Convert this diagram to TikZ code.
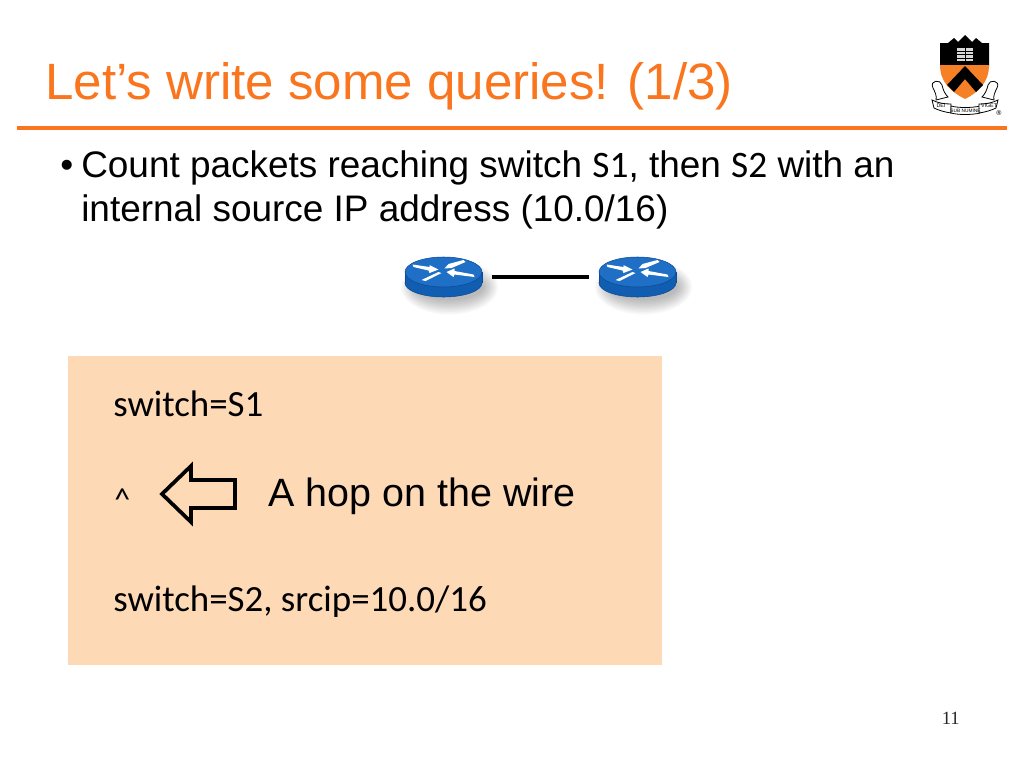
\documentclass[tikz,border=0pt]{standalone}
\usepackage{fontspec}
\setmainfont{Liberation Sans}
\newfontfamily\calfont{Carlito}
\newfontfamily\djfont{DejaVu Sans}
\newfontfamily\serfont{Liberation Serif}
\definecolor{ptitle}{HTML}{F9761E}
\definecolor{pbox}{HTML}{FDD9B5}
\definecolor{rtop}{HTML}{1F6FC6}
\definecolor{rside}{HTML}{105DB2}
\definecolor{rrim}{HTML}{0B4A94}
\definecolor{shield}{HTML}{F58025}
\tikzset{
  titletext/.style={anchor=base west,inner sep=0,text=ptitle,font=\fontsize{38.3}{40}\selectfont},
  bodytext/.style={anchor=base west,inner sep=0,font=\fontsize{27.7}{30}\selectfont},
  boxtext/.style={anchor=base west,inner sep=0,font=\calfont\fontsize{27.7}{30}\selectfont},
  carettext/.style={anchor=base west,inner sep=0,font=\calfont\fontsize{24}{26}\selectfont},
  hoptext/.style={anchor=base west,inner sep=0,font=\fontsize{29.6}{32}\selectfont},
  routerbox/.style={minimum width=57.75pt,minimum height=30pt,inner sep=0,outer sep=7.5pt},
  wirelink/.style={line width=2.6pt,black},
  scrollpart/.style={draw=black,line width=.6pt,fill=white},
  arrowglyph/.style={draw=black,line width=2.8pt,line join=miter,fill=none}
}
\newcommand{\routerdraw}[2]{%
  \begin{scope}[shift={(#1,#2)}]
    \foreach \k in {1,...,12}{\fill[black,opacity=.024] (6,10) ellipse ({33+\k*1.3} and {12+\k*1.3});}
    \fill[rside,draw=rrim,line width=.4pt] (0,6) ellipse (38.5 and 14);
    \fill[rside] (-38.5,-5) rectangle (38.5,6);
    \draw[rrim,line width=.4pt] (-38.5,-5) -- (-38.5,6) (38.5,-5) -- (38.5,6);
    \fill[rtop,draw=rrim,line width=.4pt] (0,-5) ellipse (38.5 and 15);
    \fill[white] (-31,-12.5) -- (-14,-10) -- (-14,-12) -- (-5,-7.5) -- (-14,-4) -- (-15,-6.5) -- (-30,-10) -- cycle;
    \fill[white] (20,-17) -- (22,-15) -- (8,-9) -- (1,-8.5) -- (5,-13) -- cycle;
    \fill[white] (-5,-5) -- (-2,-4) -- (-18,4) -- (-22,3) -- cycle;
    \fill[white] (3,-5) -- (11,-8.5) -- (11,-6) -- (30,-2.5) -- (31,0) -- (11,-2.5) -- (10,0) -- cycle;
  \end{scope}}
\begin{document}
\begin{tikzpicture}[x=.75pt,y=-.75pt]
\useasboundingbox (0,0) rectangle (1024,768);
\fill[white] (0,0) rectangle (1024,768);
% title
\node[titletext] (title) at (45,99) {Let’s write some queries! (1/3)};
\coordinate (ruleL) at (17,128);
\coordinate (ruleR) at (1007,128);
\draw[ptitle,line width=2.4pt] (ruleL) -- (ruleR);
% logo
\fill[black] (940,43) -- (948,43) -- (954,38) -- (958,42) -- (965,35) -- (972,42) -- (976,38) -- (982,43) -- (989,43) -- (989,66) -- (940,66) -- cycle;
\fill[shield] (940,65) -- (989,65) .. controls (989,82) and (979,92) .. (965,99) .. controls (951,92) and (940,82) .. (940,65) -- cycle;
\fill[black] (965,66) -- (983,85) -- (976,92) -- (965,79) -- (954,92) -- (947,85) -- cycle;
\fill[white!85!black] (957,48) rectangle (973,61);
\foreach \yy in {51,54.5,58}{\draw[black,line width=.7pt] (957,\yy) -- (973,\yy);}
\draw[black,line width=.7pt] (965,48) -- (965,61);
\draw[scrollpart] (933,88) .. controls (929,80) and (941,79) .. (942,85) .. controls (943,90) and (945,94) .. (948,97) -- (936,100) .. controls (937,96) and (935,92) .. (933,88) -- cycle;
\draw[scrollpart] (997,88) .. controls (1001,80) and (989,79) .. (988,85) .. controls (987,90) and (985,94) .. (982,97) -- (994,100) .. controls (993,96) and (995,92) .. (997,88) -- cycle;
\draw[scrollpart] (932,100) .. controls (938,103) and (944,104) .. (951,104) -- (951,113) .. controls (944,112) and (938,110) .. (934,108) -- cycle;
\draw[scrollpart] (951,106) .. controls (958,108) and (972,108) .. (980,106) -- (980,113) .. controls (972,115) and (958,115) .. (951,113) -- cycle;
\draw[scrollpart] (979,104) .. controls (986,104) and (992,103) .. (998,100) -- (996,108) .. controls (992,110) and (986,112) .. (979,113) -- cycle;
\node[inner sep=0,font=\fontsize{4}{4}\selectfont] (dei) at (941,106) {DEI};
\node[inner sep=0,font=\fontsize{3.6}{4}\selectfont] (sub) at (965.5,110.5) {SUB NUMINE};
\node[inner sep=0,font=\fontsize{4}{4}\selectfont] (viget) at (989,106) {VIGET};
\node[inner sep=0,font=\djfont\fontsize{5}{5}\selectfont] (reg) at (999,113.5) {®};
% bullet text
\node[bodytext] (bullet) at (60,177) {•};
\node[bodytext] (l1) at (81,177) {Count packets reaching switch {\calfont\fontsize{28}{30}\selectfont S1}, then {\calfont\fontsize{28}{30}\selectfont S2} with an};
\node[bodytext] (l2) at (81,221) {internal source IP address (10.0/16)};
% routers
\routerdraw{443.5}{277}
\routerdraw{637.5}{277}
\node[routerbox] (r1) at (443.5,277) {};
\node[routerbox] (r2) at (637.5,277) {};
\draw[wirelink] (r1) -- (r2);
% box
\fill[pbox] (68,356) rectangle (662,665);
\node[boxtext] (a) at (113,416) {switch=S1};
\node[carettext] (b) at (114,510) {\^{}};
\node[boxtext] (c) at (113,611) {switch=S2, srcip=10.0/16};
\draw[arrowglyph] (162,494) -- (191,466) -- (191,480) -- (235,480) -- (235,508) -- (191,508) -- (191,522) -- cycle;
\node[hoptext] (hop) at (268,506) {A hop on the wire};
\node[anchor=base east,inner sep=0,font=\serfont\fontsize{14}{16}\selectfont,text=black!85] (num) at (960,724) {11};
\end{tikzpicture}
\end{document}
